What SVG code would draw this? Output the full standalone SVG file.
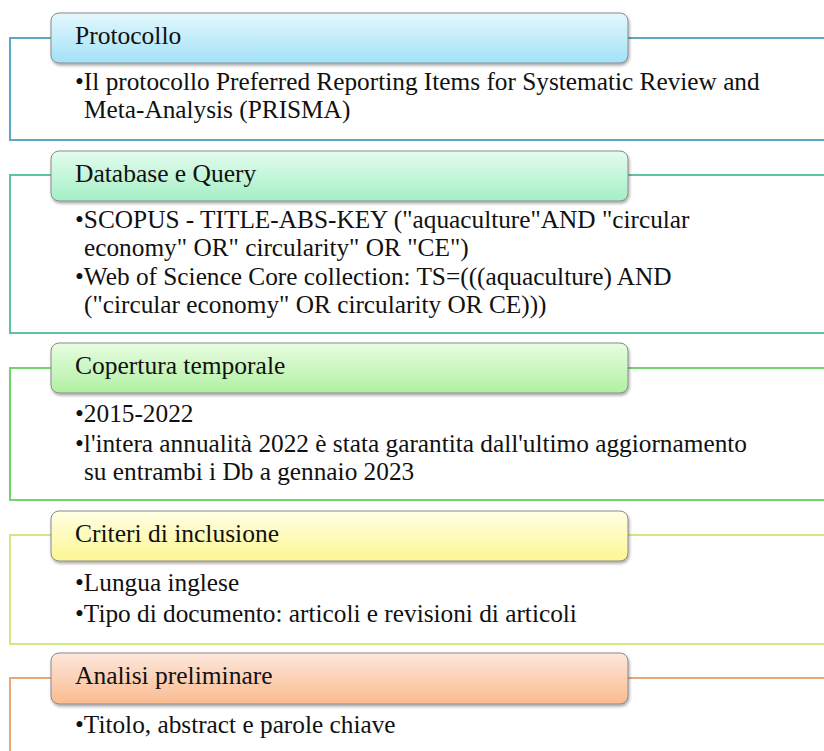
<svg xmlns="http://www.w3.org/2000/svg" width="824" height="751" viewBox="0 0 824 751">
<defs>
<linearGradient id="g1" x1="0" y1="0" x2="0" y2="1"><stop offset="0" stop-color="#e4f8fd"/><stop offset="1" stop-color="#a2e2f7"/></linearGradient>
<linearGradient id="g2" x1="0" y1="0" x2="0" y2="1"><stop offset="0" stop-color="#e4fcee"/><stop offset="1" stop-color="#a4efc6"/></linearGradient>
<linearGradient id="g3" x1="0" y1="0" x2="0" y2="1"><stop offset="0" stop-color="#e8fde2"/><stop offset="1" stop-color="#b0f0a2"/></linearGradient>
<linearGradient id="g4" x1="0" y1="0" x2="0" y2="1"><stop offset="0" stop-color="#fffee4"/><stop offset="1" stop-color="#fdf792"/></linearGradient>
<linearGradient id="g5" x1="0" y1="0" x2="0" y2="1"><stop offset="0" stop-color="#fde7dc"/><stop offset="1" stop-color="#fbbb8f"/></linearGradient>
<filter id="sh" x="-5%" y="-20%" width="110%" height="150%"><feDropShadow dx="1" dy="2" stdDeviation="1.5" flood-color="#000" flood-opacity="0.35"/></filter>
</defs>
<style>
text{font-family:"Liberation Serif","Times New Roman",serif;fill:#111;}
.h{font-size:25.5px;}
.b{font-size:25.3px;}
.frame{fill:none;stroke-width:2;}
.hdr{stroke:#8a8a8a;stroke-width:1;filter:url(#sh);}
</style>
<rect width="824" height="751" fill="#fff"/>

<g id="connectors">
<path class="frame" stroke="#5aa8c1" d="M51,38 H10 V140 H824 M628,38 H824"/>
<path class="frame" stroke="#5ec59a" d="M51,175 H10 V333 H824 M628,175 H824"/>
<path class="frame" stroke="#74d46b" d="M51,368 H10 V500 H824 M628,368 H824"/>
<path class="frame" stroke="#d3e780" d="M51,535 H10 V644 H824 M628,535 H824"/>
<path class="frame" stroke="#e9a679" d="M51,678 H10 V751 M628,678 H824"/>
</g>

<g id="protocollo">
<rect class="hdr" x="51" y="13" width="577" height="50" rx="8" fill="url(#g1)"/>
<text class="h" x="75" y="44">Protocollo</text>
<text class="b" x="75" y="90">•Il protocollo Preferred Reporting Items for Systematic Review and</text>
<text class="b" x="84" y="118">Meta-Analysis (PRISMA)</text>
</g>

<g id="database">
<rect class="hdr" x="51" y="151" width="577" height="50" rx="8" fill="url(#g2)"/>
<text class="h" x="75" y="182">Database e Query</text>
<text class="b" x="75" y="228">•SCOPUS - TITLE-ABS-KEY ("aquaculture"AND "circular</text>
<text class="b" x="84" y="256">economy" OR" circularity" OR "CE")</text>
<text class="b" x="75" y="285">•Web of Science Core collection: TS=(((aquaculture) AND</text>
<text class="b" x="84" y="313">("circular economy" OR circularity OR CE)))</text>
</g>

<g id="copertura">
<rect class="hdr" x="51" y="343" width="577" height="50" rx="8" fill="url(#g3)"/>
<text class="h" x="75" y="374">Copertura temporale</text>
<text class="b" x="75" y="422">•2015-2022</text>
<text class="b" x="75" y="452">•l'intera annualità 2022 è stata garantita dall'ultimo aggiornamento</text>
<text class="b" x="84" y="480">su entrambi i Db a gennaio 2023</text>
</g>

<g id="criteri">
<rect class="hdr" x="51" y="511" width="577" height="50" rx="8" fill="url(#g4)"/>
<text class="h" x="75" y="542">Criteri di inclusione</text>
<text class="b" x="75" y="591">•Lungua inglese</text>
<text class="b" x="75" y="622">•Tipo di documento: articoli e revisioni di articoli</text>
</g>

<g id="analisi">
<rect class="hdr" x="51" y="653" width="577" height="51" rx="8" fill="url(#g5)"/>
<text class="h" x="75" y="684">Analisi preliminare</text>
<text class="b" x="75" y="733">•Titolo, abstract e parole chiave</text>
</g>
</svg>
